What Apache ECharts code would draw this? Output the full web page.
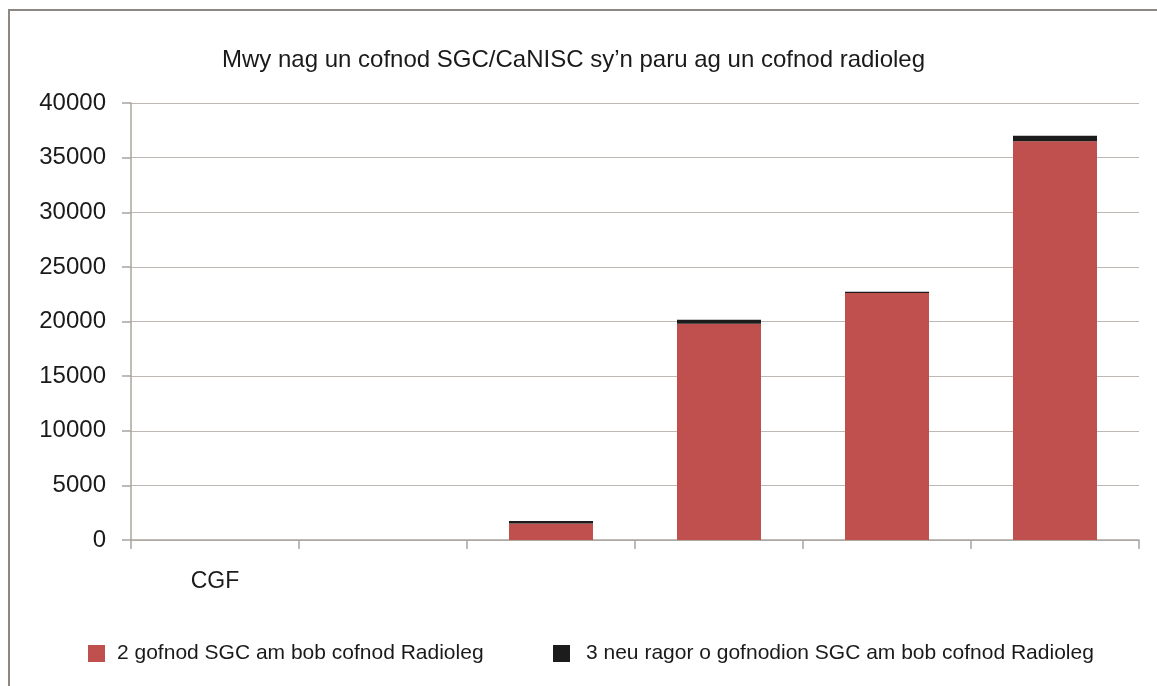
<!DOCTYPE html>
<html>
<head>
<meta charset="utf-8">
<title>Mwy nag un cofnod SGC/CaNISC</title>
<script src="https://cdn.jsdelivr.net/npm/echarts@6/dist/echarts.min.js"></script>
<style>
  html, body { margin: 0; padding: 0; background: #fff; }
  #chart { width: 1157px; height: 686px; }
</style>
</head>
<body>
<div id="chart"></div>
<script>
var categories = ['CGF', '', '', '', '', ''],
    twoRecords = [0, 0, 1500, 19800, 22600, 36500],
    threeOrMore = [0, 0, 250, 350, 130, 500],
    seriesNames = ['2 gofnod SGC am bob cofnod Radioleg', '3 neu ragor o gofnodion SGC am bob cofnod Radioleg'];

var font = '"Liberation Sans", Arial, sans-serif',
    axisGrey = '#aaa49f';

var myChart = echarts.init(document.getElementById('chart'));

myChart.setOption({
    animation: false,
    backgroundColor: '#fff',
    title: {
        text: 'Mwy nag un cofnod SGC/CaNISC sy\u2019n paru ag un cofnod radioleg',
        left: 217,
        top: 43,
        textStyle: {
            fontFamily: font,
            fontSize: 24,
            fontWeight: 'normal',
            color: '#1a1a1a'
        }
    },
    graphic: [{
        // frame round the chart, runs off the right and bottom edge
        type: 'rect',
        shape: { x: 9, y: 10, width: 1200, height: 720 },
        style: { fill: 'none', stroke: '#8e8782', lineWidth: 2 },
        silent: true
    }],
    legend: [{
        data: [seriesNames[0]],
        left: 88,
        top: 643,
        padding: 0,
        itemWidth: 17,
        itemHeight: 17,
        icon: 'rect',
        textStyle: { fontFamily: font, fontSize: 21, color: '#1a1a1a', padding: [0, 0, 0, 7] }
    }, {
        data: [seriesNames[1]],
        left: 553,
        top: 643,
        padding: 0,
        itemWidth: 17,
        itemHeight: 17,
        icon: 'rect',
        textStyle: { fontFamily: font, fontSize: 21, color: '#1a1a1a', padding: [0, 0, 0, 11] }
    }],
    grid: {
        left: 131,
        right: 18,
        top: 103,
        bottom: 146,
        containLabel: false
    },
    xAxis: {
        type: 'category',
        data: categories,
        axisLine: { lineStyle: { color: axisGrey, width: 1.5 } },
        axisTick: { show: true, length: 9, alignWithLabel: false, lineStyle: { color: axisGrey, width: 1.5 } },
        axisLabel: {
            interval: 0,
            margin: 30,
            fontFamily: font,
            fontSize: 23,
            color: '#1a1a1a'
        }
    },
    yAxis: {
        type: 'value',
        min: 0,
        max: 40000,
        interval: 5000,
        axisLine: { show: true, lineStyle: { color: axisGrey, width: 1.5 } },
        axisTick: { show: true, length: 9, lineStyle: { color: axisGrey, width: 1.5 } },
        axisLabel: {
            margin: 25,
            fontFamily: font,
            fontSize: 24,
            color: '#1a1a1a',
            formatter: function (val) {
                return String(val);
            }
        },
        splitLine: { lineStyle: { color: '#bdb8b4', width: 1 } }
    },
    series: [{
        name: seriesNames[0],
        type: 'bar',
        stack: 'total',
        barWidth: '50%',
        itemStyle: { color: '#c0504d' },
        data: twoRecords
    }, {
        name: seriesNames[1],
        type: 'bar',
        stack: 'total',
        itemStyle: { color: '#1c1c1c' },
        data: threeOrMore
    }]
});
</script>
</body>
</html>
